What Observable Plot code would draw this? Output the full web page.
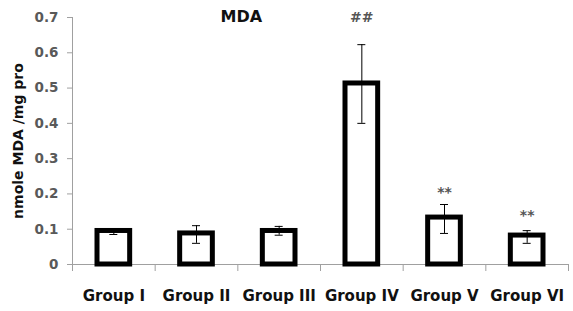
<!DOCTYPE html>
<html><head><meta charset="utf-8">
<script src="https://cdn.jsdelivr.net/npm/d3@7"></script>
<script src="https://cdn.jsdelivr.net/npm/@observablehq/plot@0.6"></script>
<style>body{margin:0;background:#fff;} svg{display:block;}</style>
</head><body><div id="chart"></div>
<script>
const groups = ["Group I","Group II","Group III","Group IV","Group V","Group VI"];
const means = [0.095, 0.088, 0.095, 0.513, 0.133, 0.082];
const errLow = [0.085, 0.060, 0.083, 0.400, 0.088, 0.060];
const errHigh = [0.102, 0.110, 0.108, 0.623, 0.170, 0.096];
const marks = ["", "", "", "##", "**", "**"];
const markY = [0, 0, 0, 0.70, 0.205, 0.140];
const yTicks = [0, 0.1, 0.2, 0.3, 0.4, 0.5, 0.6, 0.7];
const yLabel = "nmole MDA /mg pro";
const title = "MDA";

const data = groups.map((g, i) => ({g, i, mean: means[i], lo: errLow[i], hi: errHigh[i], mark: marks[i], my: markY[i]}));
const font = "DejaVu Sans, sans-serif";
const cx = d => d.i + 0.5;

const chart = Plot.plot({
  width: 573, height: 311,
  marginLeft: 72, marginRight: 5, marginTop: 17, marginBottom: 47,
  style: {fontFamily: font, background: "#fff"},
  x: {type: "linear", domain: [0, 6]},
  y: {domain: [0, 0.7]},
  marks: [
    Plot.ruleX([0], {y1: 0, y2: 0.7, stroke: "#a0a0a0"}),
    Plot.ruleY([0], {stroke: "#a0a0a0"}),
    Plot.axisY({ticks: yTicks, tickFormat: d => String(d), tickSize: 5, stroke: "#a0a0a0", fill: "#595959", fontSize: 13.5, fontWeight: "bold", tickPadding: 9, label: null}),
    Plot.axisX({ticks: d3.range(0, 7), tickFormat: () => "", tickSize: 7, stroke: "#a0a0a0", label: null}),
    Plot.axisX({ticks: d3.range(0.5, 6, 1), tickFormat: d => groups[Math.floor(d)], tickSize: 0, tickPadding: 26, fill: "#111", fontSize: 15, fontWeight: "bold", label: null}),
    Plot.rectY(data, {x1: "i", x2: d => d.i + 1, y: "mean", insetLeft: 25, insetRight: 25, fill: "#fff", stroke: "#000", strokeWidth: 5}),
    Plot.ruleX(data, {x: cx, y1: "lo", y2: "hi", stroke: "#000", strokeWidth: 1}),
    Plot.ruleY(data, {y: "lo", x1: cx, x2: cx, insetLeft: -4, insetRight: -4, stroke: "#000", strokeWidth: 1}),
    Plot.ruleY(data, {y: "hi", x1: cx, x2: cx, insetLeft: -4, insetRight: -4, stroke: "#000", strokeWidth: 1}),
    Plot.text(data.filter(d => d.mark), {x: cx, y: "my", text: "mark", fill: "#555", fontSize: 14, fontWeight: "bold"}),
    Plot.text([yLabel], {frameAnchor: "left", textAnchor: "middle", dx: -54, rotate: -90, fontSize: 14, fontWeight: "bold", fill: "#111"}),
    Plot.text([title], {frameAnchor: "top-left", dx: 148, dy: -7, fontSize: 16, fontWeight: "bold", fill: "#111"})
  ]
});
document.getElementById("chart").appendChild(chart);
</script>
</body></html>
